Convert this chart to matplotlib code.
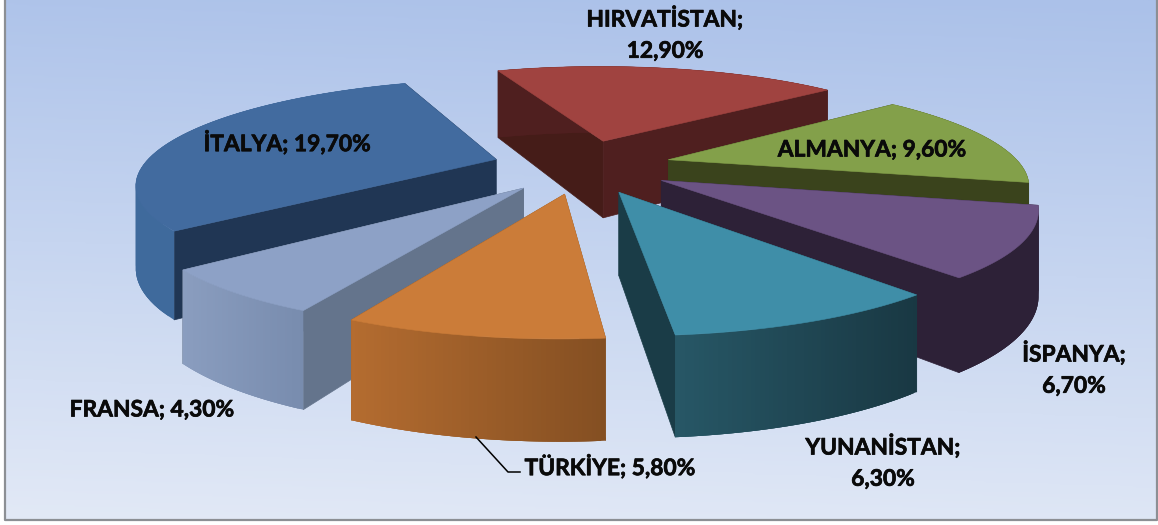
import numpy as np
import matplotlib
matplotlib.use("Agg")
import matplotlib.pyplot as plt
import matplotlib.patheffects as pe
from matplotlib.colors import to_rgb, LinearSegmentedColormap

# ---- data (clockwise from the first slice)
countries = ["İTALYA", "HIRVATİSTAN", "ALMANYA", "İSPANYA", "YUNANİSTAN", "TÜRKİYE", "FRANSA"]
shares = [19.7, 12.9, 9.6, 6.7, 6.3, 5.8, 4.3]
value_text = ["19,70%", "12,90%", "9,60%", "6,70%", "6,30%", "5,80%", "4,30%"]

# ---- styles
top_colors = ["#426B9F", "#A04340", "#83A04A", "#6B5384", "#3F8EA8", "#CB7C39", "#8DA1C6"]
side_colors = [("#3F6A9C", "#3F6899"), ("#4F1F1F", "#4F1F1F"), ("#3A431C", "#3A431C"),
               ("#2D2137", "#2D2137"), ("#275766", "#193843"), ("#B46C30", "#844F22"),
               ("#8A9DBF", "#788CAE")]
wall_start = ["#203654", "#451C18", "#3A431C", "#2D2137", "#1A3C47", "#8A5424", "#64748C"]
wall_end = ["#203654", "#4F1F1F", "#3A431C", "#2D2137", "#1A3C47", "#8A5424", "#64748C"]
draw_order = [1, 0, 2, 3, 6, 4, 5]

START = -129.8      # first slice start, degrees clockwise from the back
EXPLODE_X, EXPLODE_Y = 0.255, 0.27
CX, CY = 582.0, 166.0
RX, RY = 353.0, 100.0
PERSP = 0.212
DEPTH = 80.0

W, H = 1158, 525
fig = plt.figure(figsize=(W / 100, H / 100), dpi=100)
ax = fig.add_axes([0, 0, 1, 1])
ax.axis("off")

# background
yy, xx = np.mgrid[0:1:200j, 0:1:200j]
grad = yy * 0.93 + (1 - xx) * 0.07
cmap = LinearSegmentedColormap.from_list("bg", ["#ABC1E9", "#C6D5F0", "#E2E9F6"])
ax.imshow(grad, cmap=cmap, extent=(5, W - 1, 520, 0), aspect="auto", zorder=0, vmin=0, vmax=1)
ax.plot([5, 5, W - 1, W - 1], [0, 520, 520, 0], color="#8C8F94", lw=1.6, zorder=1)
ax.set_xlim(0, W)
ax.set_ylim(H, 0)


def project(x, y, z=0.0):
    s = 1.0 / (1.0 + PERSP * np.asarray(y))
    return CX + RX * np.asarray(x) * s, CY - RY * np.asarray(y) * s + z * s ** 0.8


def lerp(a, b, t):
    a, b = np.array(to_rgb(a)), np.array(to_rgb(b))
    return tuple(a + (b - a) * t)


fractions = np.array(shares) / np.sum(shares)
edges = np.radians(START + 360 * np.concatenate([[0], np.cumsum(fractions)]))

z = 2
for i in draw_order:
    a0, a1 = edges[i], edges[i + 1]
    mid = (a0 + a1) / 2
    ox, oy = EXPLODE_X * np.sin(mid), EXPLODE_Y * np.cos(mid)
    th = np.linspace(a0, a1, 60)
    ax_, ay_ = ox + np.sin(th), oy + np.cos(th)

    # cut faces
    for ang_idx, col in ((0, wall_start[i]), (-1, wall_end[i])):
        px = np.array([ox, ax_[ang_idx]])
        py = np.array([oy, ay_[ang_idx]])
        tx, ty = project(px, py)
        bx, by = project(px, py, DEPTH)
        ax.fill(np.r_[tx, bx[::-1]], np.r_[ty, by[::-1]], color=col, lw=0.5, zorder=z)
        z += 1

    # outer rim: shaded strips, each overlapping the next one so no seams show
    tx, ty = project(ax_, ay_)
    bx, by = project(ax_, ay_, DEPTH)
    xmin, xmax = tx.min(), tx.max()
    n = len(th)
    for k in range(n - 1):
        e = min(k + 3, n - 1)
        t = ((tx[k] + tx[k + 1]) / 2 - xmin) / max(xmax - xmin, 1)
        col = lerp(side_colors[i][0], side_colors[i][1], t)
        ax.fill(np.r_[tx[k:e + 1], bx[k:e + 1][::-1]], np.r_[ty[k:e + 1], by[k:e + 1][::-1]],
                facecolor=col, edgecolor="none", zorder=z)
        z += 0.001
    z = np.ceil(z)

    # top face
    cx0, cy0 = project(ox, oy)
    ax.fill(np.r_[cx0, tx], np.r_[cy0, ty], color=top_colors[i], lw=0.4, zorder=z)
    z += 1

# labels
plt.rcParams["font.family"] = ["Lato", "DejaVu Sans"]
label_fmt = [
    (287, 143, "{0}; {1}"),
    (665, 34, "{0};\n{1}"),
    (872, 150, "{0}; {1}"),
    (1074, 369, "{0};\n{1}"),
    (883, 462, "{0};\n{1}"),
    (610, 467, "{0}; {1}"),
    (152, 410, "{0}; {1}"),
]
for (x, y, fmt), name, val in zip(label_fmt, countries, value_text):
    ax.text(x, y, fmt.format(name, val), ha="center", va="center", fontsize=16.4,
            fontweight="bold", color="#0A0A0A", linespacing=1.6, zorder=z + 5,
            path_effects=[pe.withStroke(linewidth=0.5, foreground="#0A0A0A")])

# leader line
ax.plot([476, 508, 520], [437, 472, 472], color="black", lw=1.1, zorder=z + 4)

fig.savefig("out.png", dpi=100)
